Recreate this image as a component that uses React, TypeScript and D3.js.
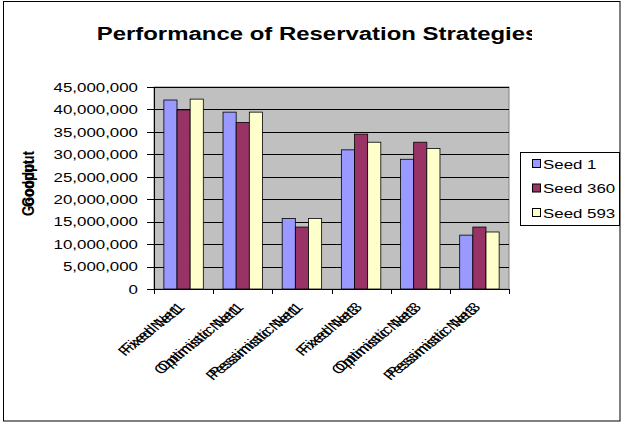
import React from "react";
import * as d3 from "d3";

const categories = [
  "Fixed Net1",
  "Optimistic Net1",
  "Pessimistic Net1",
  "Fixed Net3",
  "Optimistic Net3",
  "Pessimistic Net3",
];
const seriesNames = ["Seed 1", "Seed 360", "Seed 593"];
const seed1 = [42100000, 39400000, 15700000, 31000000, 28900000, 12000000];
const seed360 = [39900000, 37100000, 13800000, 34500000, 32700000, 13800000];
const seed593 = [42300000, 39400000, 15700000, 32700000, 31300000, 12700000];
const seriesValues = [seed1, seed360, seed593];
const colors = ["#9999FF", "#993366", "#FFFFCC"];
const yTicks = [0, 5e6, 10e6, 15e6, 20e6, 25e6, 30e6, 35e6, 40e6, 45e6];

const W = 624;
const H = 423;
const plot = { left: 154, right: 509, top: 87, bottom: 289 };
const FONT = "'Liberation Sans', Arial, sans-serif";
const K = 1.26; // horizontal stretch of text in the reference
const FS = 13.4;

export default function App() {
  const x = d3
    .scaleBand<string>()
    .domain(categories)
    .range([plot.left, plot.right])
    .paddingInner(0)
    .paddingOuter(0);
  const step = x.step();
  const barW = step / 4.5;
  const gap = step - 3 * barW;
  const xs = d3
    .scaleBand<string>()
    .domain(seriesNames)
    .range([gap / 2, step - gap / 2])
    .padding(0);
  const y = d3.scaleLinear().domain([0, 45e6]).range([plot.bottom, plot.top]);
  const fmt = d3.format(",");
  const boundaries = d3.range(categories.length + 1).map((i) => plot.left + i * step);

  return (
    <svg
      width={W}
      height={H}
      style={{ position: "absolute", left: 0, top: 0, background: "#fff" }}
      fontFamily={FONT}
    >
      <defs>
        <clipPath id="titleClip">
          <rect x={0} y={0} width={532} height={80} />
        </clipPath>
      </defs>
      <rect x={3.5} y={1.5} width={616.5} height={419.5} fill="#fff" stroke="#000" strokeWidth={1} />
      <g clipPath="url(#titleClip)">
        <text
          transform={`translate(317.5,40) scale(${K},1)`}
          textAnchor="middle"
          fontSize={19}
          fontWeight="bold"
        >
          Performance of Reservation Strategies
        </text>
      </g>

      {/* plot area */}
      <rect
        x={plot.left}
        y={plot.top}
        width={plot.right - plot.left}
        height={plot.bottom - plot.top}
        fill="#C0C0C0"
        stroke="#808080"
        strokeWidth={1}
      />
      {yTicks.slice(1).map((t) => (
        <line
          key={t}
          x1={plot.left}
          x2={plot.right}
          y1={Math.round(y(t)) + 0.5}
          y2={Math.round(y(t)) + 0.5}
          stroke="#000"
          strokeWidth={1}
        />
      ))}

      {/* bars */}
      {categories.map((c, i) => (
        <g key={c}>
          {seriesNames.map((s, j) => {
            const v = seriesValues[j][i];
            const bx = (x(c) as number) + (xs(s) as number);
            return (
              <rect
                key={s}
                x={bx}
                y={y(v)}
                width={xs.bandwidth()}
                height={plot.bottom - y(v)}
                fill={colors[j]}
                stroke="#000"
                strokeWidth={0.8}
              />
            );
          })}
        </g>
      ))}

      {/* axes */}
      <line x1={plot.left + 0.5} x2={plot.left + 0.5} y1={plot.top} y2={plot.bottom} stroke="#000" />
      <line x1={plot.left} x2={plot.right} y1={plot.bottom + 0.5} y2={plot.bottom + 0.5} stroke="#000" />
      {yTicks.map((t) => (
        <g key={"yt" + t}>
          <line
            x1={plot.left - 7}
            x2={plot.left}
            y1={Math.round(y(t)) + 0.5}
            y2={Math.round(y(t)) + 0.5}
            stroke="#000"
          />
          <text
            transform={`translate(138,${y(t) + 4.8}) scale(${K},1)`}
            textAnchor="end"
            fontSize={FS}
          >
            {fmt(t)}
          </text>
        </g>
      ))}
      {boundaries.map((b, i) => (
        <line
          key={"xt" + i}
          x1={Math.round(b) + 0.5}
          x2={Math.round(b) + 0.5}
          y1={plot.bottom}
          y2={plot.bottom + 5}
          stroke="#000"
        />
      ))}
      {categories.map((c) => {
        const cx = (x(c) as number) + step / 2;
        return (
          <g key={"lbl" + c} fontSize={FS}>
            <text
              transform={`translate(${cx + 2},${plot.bottom + 19}) scale(${K},1) rotate(-45)`}
              textAnchor="end"
            >
              {c}
            </text>
            <text
              transform={`translate(${cx - 1},${plot.bottom + 22}) scale(${K},1) rotate(-45)`}
              textAnchor="end"
            >
              {c}
            </text>
          </g>
        );
      })}

      {/* y label */}
      <text
        transform={`translate(34,179) scale(${K},1) rotate(-90)`}
        textAnchor="middle"
        fontSize={FS}
        fontWeight="bold"
      >
        Goodput
      </text>
      <text
        transform={`translate(34,188) scale(${K},1) rotate(-90)`}
        textAnchor="middle"
        fontSize={FS}
        fontWeight="bold"
      >
        Goodput
      </text>

      {/* legend */}
      <rect x={520.5} y={152.5} width={99} height={73} fill="#fff" stroke="#000" />
      {seriesNames.map((s, j) => (
        <g key={"lg" + s}>
          <rect x={532.5} y={159.5 + j * 24.5} width={8} height={8} fill={colors[j]} stroke="#000" />
          <text transform={`translate(543,${168.5 + j * 24.5}) scale(${K},1)`} fontSize={FS}>
            {s}
          </text>
        </g>
      ))}
    </svg>
  );
}
